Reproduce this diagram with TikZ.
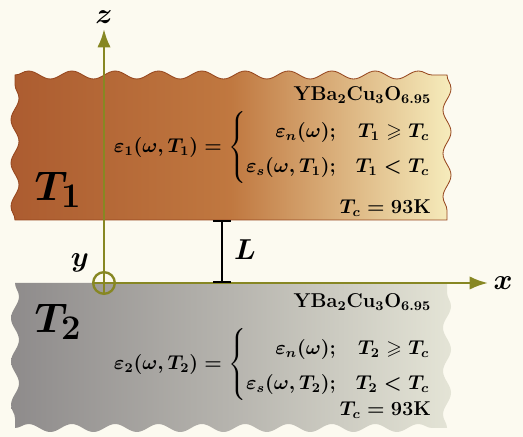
\documentclass[tikz,border=0pt]{standalone}
\usepackage{amsmath,amssymb}
\usepackage{tikz}
\usetikzlibrary{arrows.meta,decorations.pathmorphing}
\definecolor{cream}{RGB}{252,250,240}
\definecolor{brownL}{RGB}{172,92,48}
\definecolor{brownM}{RGB}{192,120,64}
\definecolor{brownR}{RGB}{246,236,188}
\definecolor{brownE}{RGB}{150,70,30}
\definecolor{grayL}{RGB}{142,139,139}
\definecolor{grayM}{RGB}{182,180,174}
\definecolor{grayR}{RGB}{228,228,214}
\definecolor{olive}{RGB}{135,135,35}

\begin{document}
\begin{tikzpicture}[x=0.6pt,y=0.6pt,>={Latex[length=11pt,width=8pt]},
  wave/.style={decoration={snake,segment length=26pt,amplitude=2.4pt}},
  axis/.style={olive,line width=1.5pt},
  txt/.style={anchor=east,font=\boldmath\large},
  axlbl/.style={font=\boldmath\fontsize{19}{22}\selectfont}]
  \fill[cream] (0,0) rectangle (523,437);
  \useasboundingbox (0,0) rectangle (523,437);
  % upper slab
  \shade[wave,draw=brownE,line width=0.5pt,left color=brownL,right color=brownR,middle color=brownM]
    (15,217) decorate{-- (15,362)} decorate{-- (447,362)} decorate{-- (447,217)} -- cycle;
  % lower slab
  \shade[wave,left color=grayL,right color=grayR,middle color=grayM]
    (15,154) decorate{-- (15,9)} decorate{-- (447,9)} decorate{-- (447,154)} -- cycle;
  \node[font=\boldmath\fontsize{31}{35}\selectfont] (Tone) at (58,247) {$T_1$};
  \node[font=\boldmath\fontsize{31}{35}\selectfont] (Ttwo) at (58,115) {$T_2$};
  \node[txt] (matA) at (437,342) {\textbf{YBa$_2$Cu$_3$O$_{6.95}$}};
  \node[txt] (epsA) at (437,289) {\renewcommand{\arraystretch}{1.5}%
    $\varepsilon_1(\omega,T_1)=\left\{\begin{array}{@{}r@{\quad}r@{}}
      \varepsilon_n(\omega); & T_1\geqslant T_c\\
      \varepsilon_s(\omega,T_1); & T_1<T_c\end{array}\right.$};
  \node[txt] (tcA) at (437,229) {$T_c=\mathbf{93}$\textbf{K}};
  \node[txt] (matB) at (437,135) {\textbf{YBa$_2$Cu$_3$O$_{6.95}$}};
  \node[txt] (epsB) at (437,72) {\renewcommand{\arraystretch}{1.5}%
    $\varepsilon_2(\omega,T_2)=\left\{\begin{array}{@{}r@{\quad}r@{}}
      \varepsilon_n(\omega); & T_2\geqslant T_c\\
      \varepsilon_s(\omega,T_2); & T_2<T_c\end{array}\right.$};
  \node[txt] (tcB) at (437,27) {$T_c=\mathbf{93}$\textbf{K}};
  % axes
  \node[draw=olive,circle,line width=1.4pt,minimum size=13pt,inner sep=0pt] (orig) at (104,154) {};
  \draw[olive,line width=1.1pt] (orig.north) -- (orig.south) (orig.west) -- (orig.east);
  \coordinate (zend) at (104,408);
  \coordinate (xend) at (488,154);
  \draw[axis,->] (orig.north) -- (zend);
  \draw[axis,->] (orig.east) -- (xend);
  \node[axlbl] (zlbl) at (104,420) {$z$};
  \node[axlbl] (xlbl) at (503,154) {$x$};
  \node[axlbl] (ylbl) at (80,174) {$y$};
  % gap L
  \coordinate (Ltop) at (222,217);
  \coordinate (Lbot) at (222,154);
  \draw[{Bar[width=11pt]}-{Bar[width=11pt]},line width=1pt] (Ltop) -- (Lbot);
  \node[font=\boldmath\fontsize{19}{22}\selectfont] (Llbl) at (245,187) {$L$};
\end{tikzpicture}
\end{document}
